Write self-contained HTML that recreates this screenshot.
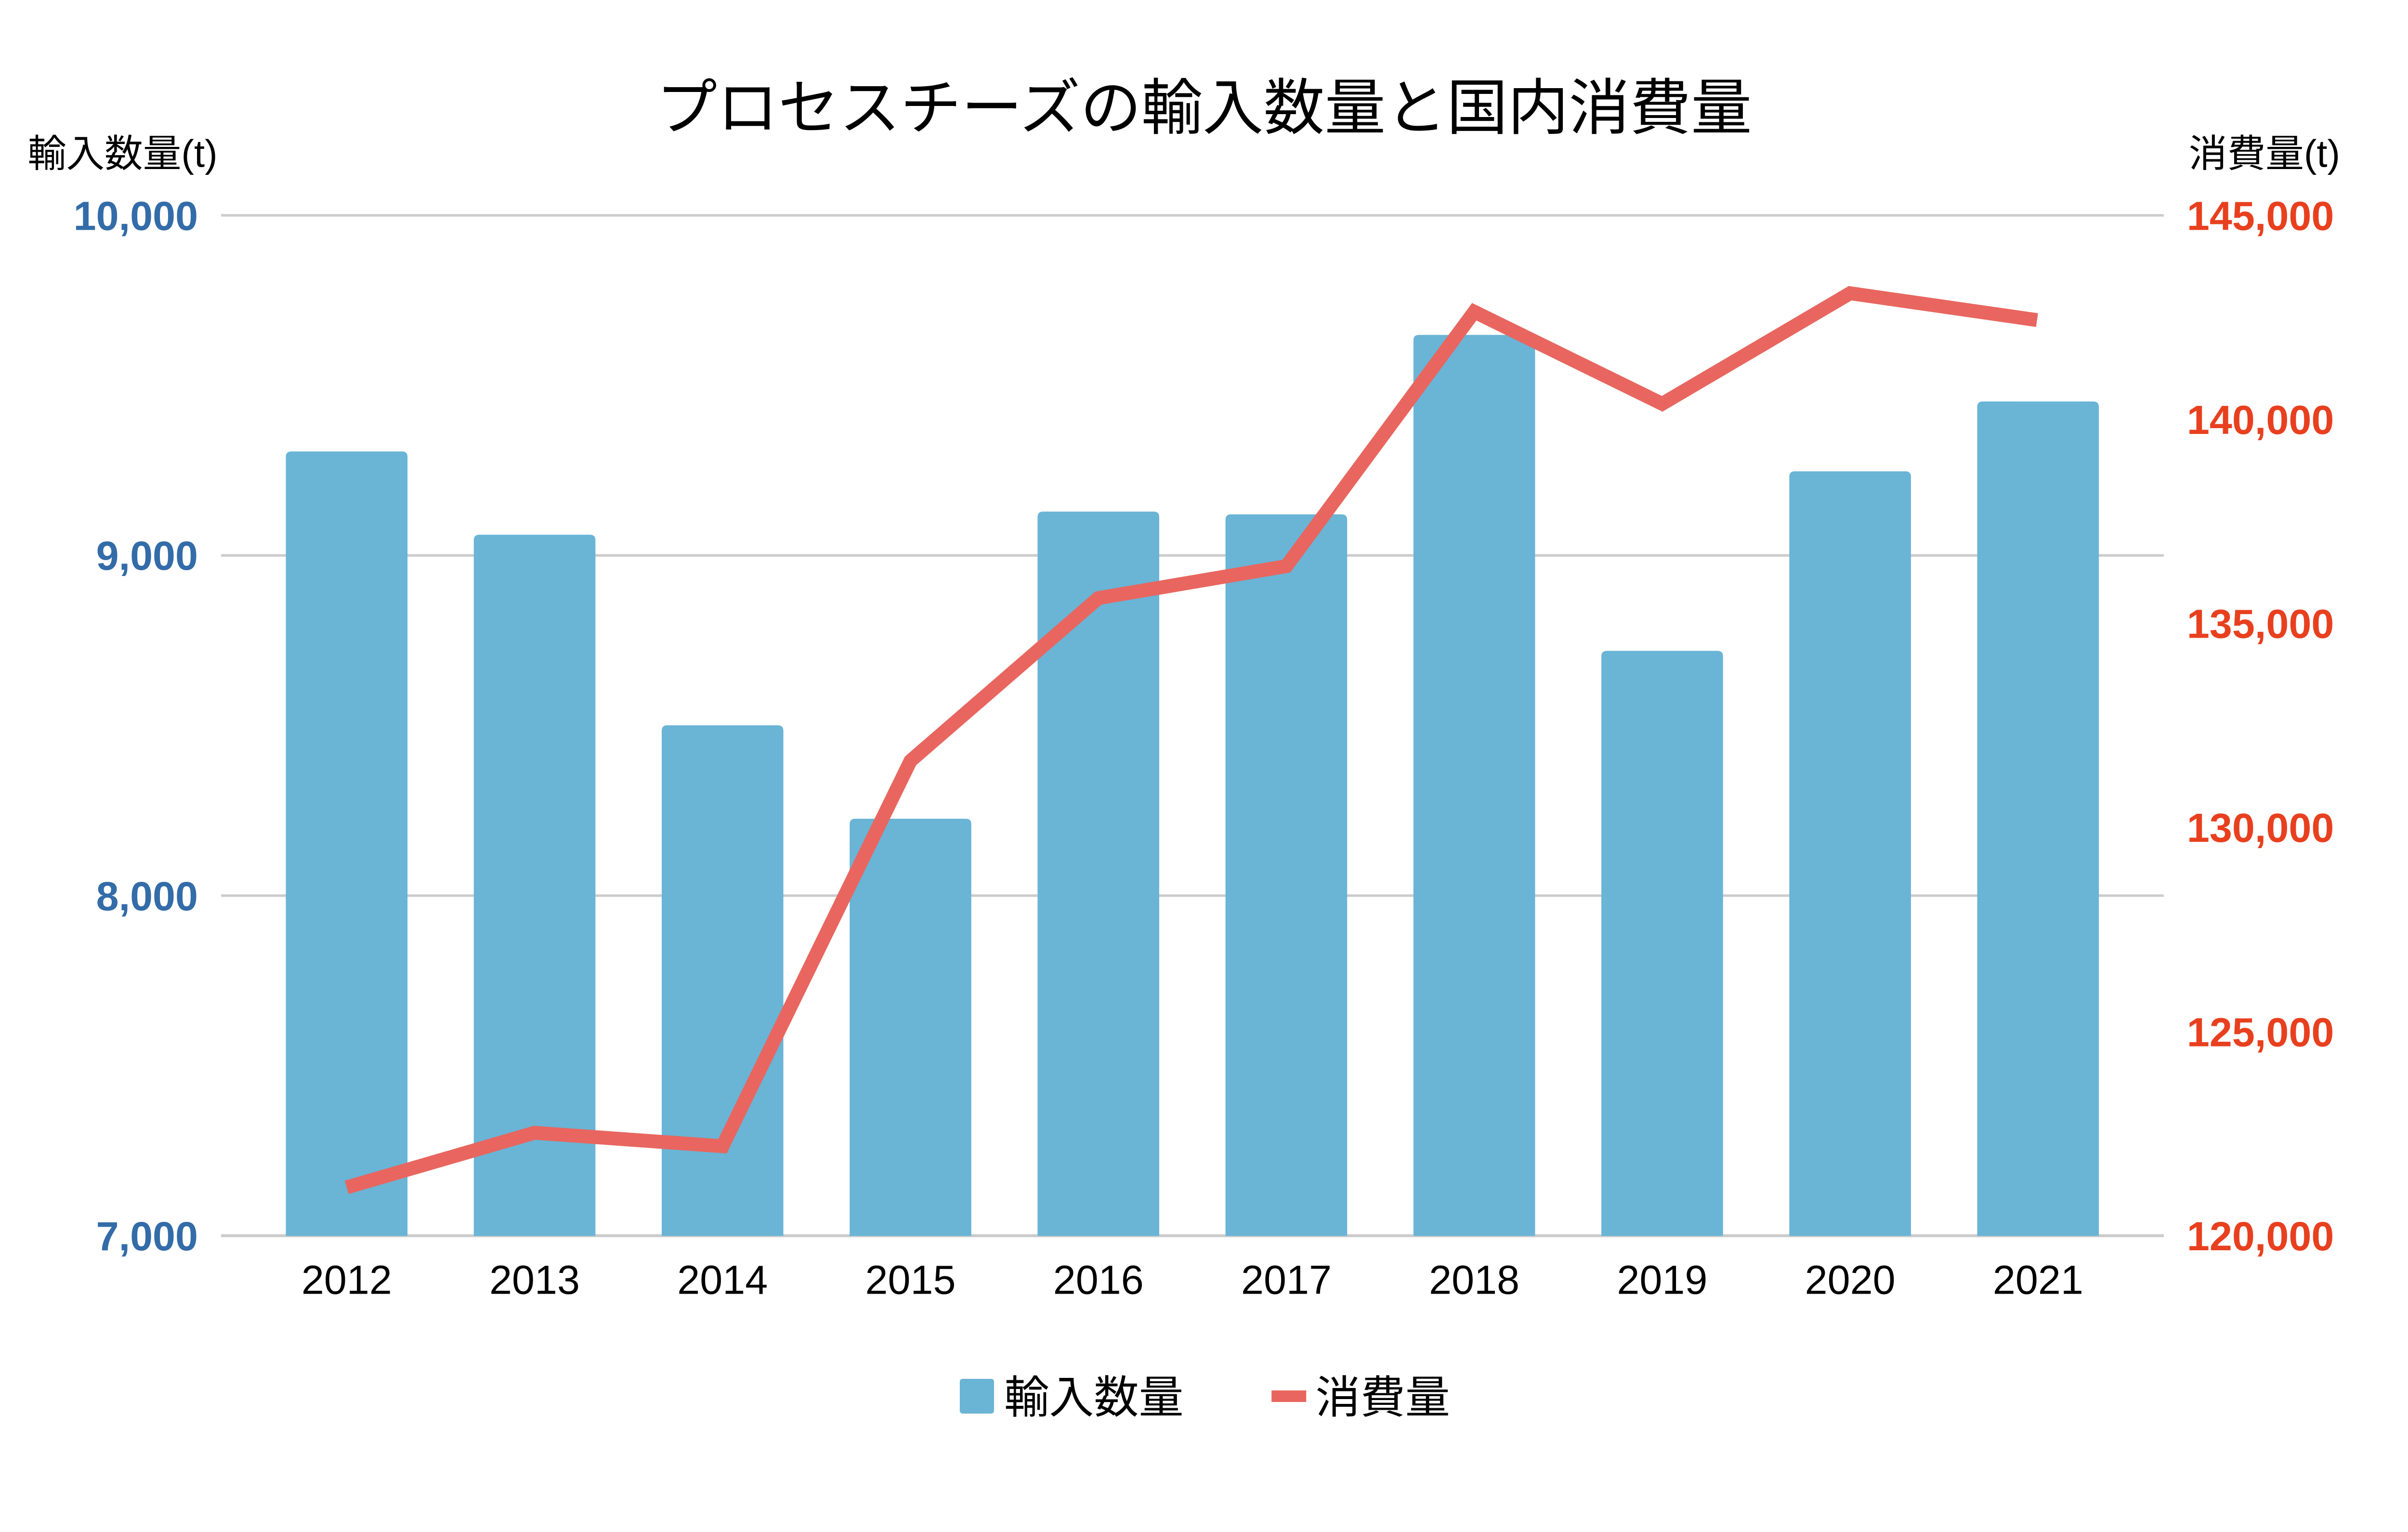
<!DOCTYPE html>
<html>
<head>
<meta charset="utf-8">
<style>
html,body{margin:0;padding:0;background:#fff;overflow:hidden;}
svg{display:block;position:absolute;left:0;top:0;width:100vw;height:calc(100vw * 0.611026);}
</style>
</head>
<body>
<svg viewBox="0 0 5206 3181" preserveAspectRatio="xMinYMin meet" xmlns="http://www.w3.org/2000/svg">
<rect x="0" y="0" width="5206" height="3181" fill="#ffffff"/>

<!-- Title -->
<text x="2603" y="279" text-anchor="middle" font-family="'Liberation Sans','Noto Sans CJK JP',sans-serif" font-size="132" fill="#000">プロセスチーズの輸入数量と国内消費量</text>

<!-- Axis titles -->
<text x="60" y="361" font-family="'Liberation Sans','Noto Sans CJK JP',sans-serif" font-size="83" fill="#000">輸入数量(t)</text>
<text x="4732" y="361" font-family="'Liberation Sans','Noto Sans CJK JP',sans-serif" font-size="83" fill="#000">消費量(t)</text>

<!-- Gridlines -->
<g stroke="#cccccc" stroke-width="5.5">
<line x1="478" y1="465.5" x2="4678" y2="465.5"/>
<line x1="478" y1="1200.8" x2="4678" y2="1200.8"/>
<line x1="478" y1="1936.2" x2="4678" y2="1936.2"/>
<line x1="478" y1="2671.5" x2="4678" y2="2671.5" stroke-width="6.5"/>
</g>

<!-- Left tick labels -->
<g font-family="'Liberation Sans',sans-serif" font-weight="bold" font-size="88" fill="#336ca8" text-anchor="end">
<text x="428" y="497">10,000</text>
<text x="428" y="1232">9,000</text>
<text x="428" y="1968">8,000</text>
<text x="428" y="2703">7,000</text>
</g>

<!-- Right tick labels -->
<g font-family="'Liberation Sans',sans-serif" font-weight="bold" font-size="88" fill="#e8401f">
<text x="4728" y="497">145,000</text>
<text x="4728" y="938">140,000</text>
<text x="4728" y="1379">135,000</text>
<text x="4728" y="1820">130,000</text>
<text x="4728" y="2262">125,000</text>
<text x="4728" y="2703">120,000</text>
</g>

<!-- Bars -->
<g fill="#6ab4d6">
<path d="M618,2672 L618,988 Q618,976 630,976 L869,976 Q881,976 881,988 L881,2672 Z"/>
<path d="M1024.3,2672 L1024.3,1168 Q1024.3,1156 1036.3,1156 L1275.3,1156 Q1287.3,1156 1287.3,1168 L1287.3,2672 Z"/>
<path d="M1430.6,2672 L1430.6,1580 Q1430.6,1568 1442.6,1568 L1681.6,1568 Q1693.6,1568 1693.6,1580 L1693.6,2672 Z"/>
<path d="M1836.9,2672 L1836.9,1782 Q1836.9,1770 1848.9,1770 L2087.9,1770 Q2099.9,1770 2099.9,1782 L2099.9,2672 Z"/>
<path d="M2243.2,2672 L2243.2,1118 Q2243.2,1106 2255.2,1106 L2494.2,1106 Q2506.2,1106 2506.2,1118 L2506.2,2672 Z"/>
<path d="M2649.5,2672 L2649.5,1124 Q2649.5,1112 2661.5,1112 L2900.5,1112 Q2912.5,1112 2912.5,1124 L2912.5,2672 Z"/>
<path d="M3055.8,2672 L3055.8,736 Q3055.8,724 3067.8,724 L3306.8,724 Q3318.8,724 3318.8,736 L3318.8,2672 Z"/>
<path d="M3462.1,2672 L3462.1,1419 Q3462.1,1407 3474.1,1407 L3713.1,1407 Q3725.1,1407 3725.1,1419 L3725.1,2672 Z"/>
<path d="M3868.4,2672 L3868.4,1031 Q3868.4,1019 3880.4,1019 L4119.4,1019 Q4131.4,1019 4131.4,1031 L4131.4,2672 Z"/>
<path d="M4274.7,2672 L4274.7,880 Q4274.7,868 4286.7,868 L4525.7,868 Q4537.7,868 4537.7,880 L4537.7,2672 Z"/>
</g>

<!-- Line -->
<polyline fill="none" stroke="#e8665f" stroke-width="30" stroke-linejoin="miter" stroke-miterlimit="10" stroke-linecap="butt"
 points="749.5,2567 1155.8,2449 1562.1,2478 1968.4,1645 2374.7,1293 2781,1224 3187.3,674 3593.6,873 3999.9,634 4404,692"/>

<!-- X labels -->
<g font-family="'Liberation Sans',sans-serif" font-size="88" fill="#000" text-anchor="middle">
<text x="749.5" y="2797">2012</text>
<text x="1155.8" y="2797">2013</text>
<text x="1562.1" y="2797">2014</text>
<text x="1968.4" y="2797">2015</text>
<text x="2374.7" y="2797">2016</text>
<text x="2781" y="2797">2017</text>
<text x="3187.3" y="2797">2018</text>
<text x="3593.6" y="2797">2019</text>
<text x="3999.9" y="2797">2020</text>
<text x="4406.2" y="2797">2021</text>
</g>

<!-- Legend -->
<rect x="2075" y="2981" width="74" height="75" rx="6" ry="6" fill="#6ab4d6"/>
<text x="2171" y="3055" font-family="'Liberation Sans','Noto Sans CJK JP',sans-serif" font-size="97" fill="#000">輸入数量</text>
<rect x="2749" y="3006" width="75" height="25" fill="#e8665f"/>
<text x="2844" y="3055" font-family="'Liberation Sans','Noto Sans CJK JP',sans-serif" font-size="97" fill="#000">消費量</text>
</svg>
</body>
</html>
